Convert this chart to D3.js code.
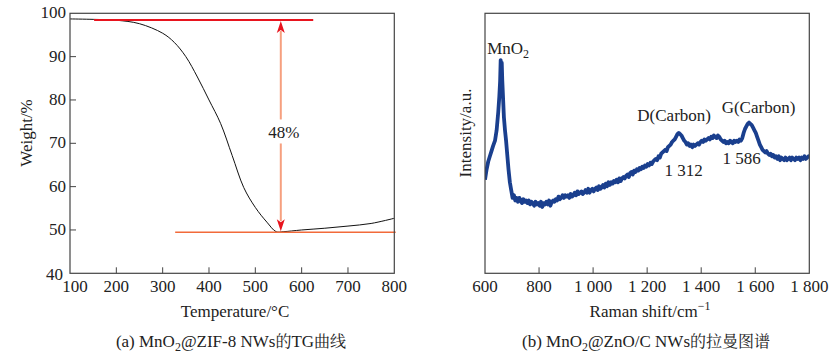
<!DOCTYPE html>
<html><head><meta charset="utf-8">
<script src="https://cdn.jsdelivr.net/npm/d3@7"></script>
</head>
<body style="margin:0;background:#fff">
<svg id="c" width="835" height="356"></svg>
<script>
// ---- Panel (a): TG curve ----
const tgTemp   = [100,150,200,250,300,325,350,375,400,425,450,475,500,525,545,560,600,650,700,750,800];
const tgWeight = [98.7,98.6,98.4,97.6,95.4,93.3,90,85.3,80,74.6,67.2,59.8,55.2,51.8,49.6,49.6,50.0,50.4,50.9,51.5,52.7];
const tgXTicks = [100,200,300,400,500,600,700,800];
const tgYTicks = [40,50,60,70,80,90,100];
const tgTopLine = {x0:152, x1:625, y:98.45};
const tgBottomLine = {x0:327, x1:803, y:49.5};
const tgArrowX = 555;
const tgLossLabel = "48%";

// ---- Panel (b): Raman spectrum ----
const ramanShift = [600,606,612,618,624,630,637,643,649,653,656,658,660,662,664,667,670,674,678,682,687,692,697,702,707,712,717,722,727,732,737,742,747,752,757,762,767,772,777,782,787,792,797,802,807,812,817,822,827,832,837,842,847,852,857,862,867,872,877,882,887,892,897,902,907,912,917,922,927,932,937,942,947,952,957,962,967,972,977,982,987,992,997,1002,1007,1012,1017,1022,1027,1032,1037,1042,1047,1052,1057,1062,1067,1072,1077,1082,1087,1092,1097,1102,1107,1112,1117,1122,1127,1132,1137,1142,1147,1152,1157,1162,1167,1172,1177,1182,1187,1192,1197,1202,1207,1212,1217,1222,1227,1232,1237,1242,1247,1252,1257,1262,1267,1272,1277,1282,1287,1292,1297,1302,1307,1312,1317,1322,1327,1332,1337,1342,1347,1352,1357,1362,1367,1372,1377,1382,1387,1392,1397,1402,1407,1412,1417,1422,1427,1432,1437,1442,1447,1452,1457,1462,1467,1472,1477,1482,1487,1492,1497,1502,1507,1512,1517,1522,1527,1532,1537,1542,1547,1552,1557,1562,1567,1572,1577,1582,1587,1592,1597,1602,1607,1612,1617,1622,1627,1632,1637,1642,1647,1652,1657,1662,1667,1672,1677,1682,1687,1692,1697,1702,1707,1712,1717,1722,1727,1732,1737,1742,1747,1752,1757,1762,1767,1772,1777,1782,1787,1792,1797,1800];
const ramanIntensity = [36,40,43,45,47,49,51,55,62,68,74,82,78,81,74,67,60,55,51,46,40,35,32,29,30,28,29,27.5,29,28,27,28.5,27.5,28,27,28,26.5,27.5,27,26,27.5,26.5,27,26,27.5,25.5,27,26.5,27.5,26.5,28,26,27.5,28,27.5,28.5,28,29.5,28.5,29,30,29,30,29.5,30,29,30.5,29.5,30,31,30,31.5,30.5,31,31.5,30.5,31,32,31,32.5,31,32,32.5,31.5,32.5,33,32,33.5,32.5,33,34,33,34.5,33.5,35,34,35,34.5,35.5,35,36,35,36.5,35.5,36.5,37,36.5,37.5,38,37,38.5,39,38,39.5,39,40,39.5,40.5,40,41,40.5,41.5,41,42,41.5,42.5,42,43,43.5,44,43.5,45,44.5,46,46.5,47,47.5,47,48.5,49,49.5,50.5,51,51.5,52.5,53.5,54,53.5,53,52,51,50.5,49.5,50,49,49.5,48.5,49.5,49,49.5,50,49.5,50.5,51,50.5,51.5,51,51.5,52,51.5,52.5,52,53,52.5,52,53,52.5,51.5,51,50.5,51,50,50.5,50,51,50.5,50,51,50.5,51,50.5,51.5,51,52,54,55.5,56.5,57.5,58,57.5,57,56,55,54,52.5,51,49.5,48.5,47.5,47,46.5,47,46,45.5,46,45,45.5,44.5,45,44,45,43.5,44.5,44,43.5,44.5,43.5,44,44.5,43.5,44.5,44,43.5,44.5,44,44.5,43.5,44.5,44,45,44,44.5,45,44.5,45];
const ramanXTicks = [600,800,1000,1200,1400,1600,1800];
const ramanPeaks = [
  {name:"MnO", sub:"2", x:660, y:84.5, anchor:"start", dx:-14},
  {name:"D(Carbon)", sub:"", x:1300, y:58.5, anchor:"middle", dx:0},
  {name:"G(Carbon)", sub:"", x:1612, y:61.5, anchor:"middle", dx:0}
];
const ramanPeakValues = [
  {label:"1 312", x:1335, y:37.5},
  {label:"1 586", x:1550, y:42}
];

const fmtThousands = v => v >= 1000 ? Math.floor(v/1000) + " " + String(v%1000).padStart(3,"0") : String(v);
const FONT = "'Liberation Serif'";
const CJK = "'Noto Serif CJK SC'";

const svg = d3.select("#c");
svg.append("rect").attr("width",835).attr("height",356).attr("fill","#fff");

const yTop = 13.3, yBot = 273.3;
const FS = 17;
const TXT = "#222";
const T = (sel) => sel.attr("font-size",FS).attr("fill",TXT).style("font-family",FONT);

// ===== Panel A =====
const ax = d3.scaleLinear().domain([100,800]).range([70,394.3]);
const ay = d3.scaleLinear().domain([40,100]).range([yBot,yTop]);
const gA = svg.append("g");

gA.selectAll(".xt").data(tgXTicks.slice(1,-1)).join("line")
  .attr("x1",d=>ax(d)).attr("x2",d=>ax(d)).attr("y1",yBot).attr("y2",yBot-6)
  .attr("stroke","#444").attr("stroke-width",1);
gA.selectAll(".yt").data(tgYTicks.slice(1,-1)).join("line")
  .attr("x1",ax(100)).attr("x2",ax(100)+6).attr("y1",d=>ay(d)).attr("y2",d=>ay(d))
  .attr("stroke","#444").attr("stroke-width",1);
T(gA.selectAll(".xl").data(tgXTicks).join("text")
  .attr("x",d=>ax(d)+(d===100?5:0)).attr("y",yBot+19).attr("text-anchor","middle")).text(d=>d);
T(gA.selectAll(".yl").data(tgYTicks).join("text")
  .attr("x",d=>ax(100)-(d===40?7:4)).attr("y",d=>ay(d)+(d===40?7:5)).attr("text-anchor","end")).text(d=>d);

gA.append("path").datum(tgTemp.map((t,i)=>[t,tgWeight[i]]))
  .attr("d",d3.line().x(d=>ax(d[0])).y(d=>ay(d[1])).curve(d3.curveCatmullRom.alpha(0.5)))
  .attr("fill","none").attr("stroke","#111").attr("stroke-width",1);

gA.append("line").attr("x1",ax(tgTopLine.x0)).attr("x2",ax(tgTopLine.x1))
  .attr("y1",ay(tgTopLine.y)).attr("y2",ay(tgTopLine.y))
  .attr("stroke","#e8141e").attr("stroke-width",2);
gA.append("line").attr("x1",ax(tgBottomLine.x0)).attr("x2",ax(tgBottomLine.x1))
  .attr("y1",ay(tgBottomLine.y)).attr("y2",ay(tgBottomLine.y))
  .attr("stroke","#f26a3a").attr("stroke-width",1.5);

const axX = ax(tgArrowX), yT = ay(tgTopLine.y)+1, yB = ay(tgBottomLine.y)-1;
const yMid = ay(72.5);
gA.append("line").attr("x1",axX).attr("x2",axX).attr("y1",yT+10).attr("y2",yMid-13)
  .attr("stroke","#f6a07f").attr("stroke-width",2);
gA.append("line").attr("x1",axX).attr("x2",axX).attr("y1",yMid+11).attr("y2",yB-10)
  .attr("stroke","#f6a07f").attr("stroke-width",2);
gA.append("path").attr("d",`M${axX},${yT} L${axX-4},${yT+12} L${axX},${yT+9} L${axX+4},${yT+12} Z`)
  .attr("fill","#e8141e");
gA.append("path").attr("d",`M${axX},${yB} L${axX-4},${yB-12} L${axX},${yB-9} L${axX+4},${yB-12} Z`)
  .attr("fill","#e8141e");
T(gA.append("text").attr("x",axX+3).attr("y",yMid+6).attr("text-anchor","middle")).text(tgLossLabel);

gA.append("rect").attr("x",ax(100)).attr("y",yTop).attr("width",ax(800)-ax(100)).attr("height",yBot-yTop)
  .attr("fill","none").attr("stroke","#444").attr("stroke-width",1.2);

T(gA.append("text").attr("x",235).attr("y",317).attr("text-anchor","middle")).text("Temperature/°C");
T(gA.append("text").attr("transform","translate(32,133) rotate(-90)").attr("text-anchor","middle")).text("Weight/%");
const capA = T(gA.append("text").attr("x",231).attr("y",347).attr("text-anchor","middle"));
capA.append("tspan").text("(a) MnO");
capA.append("tspan").attr("font-size",12).attr("dy",4).text("2");
capA.append("tspan").attr("dy",-4).text("@ZIF-8 NWs");
capA.append("tspan").style("font-family",CJK).attr("font-size",16).text("的");
capA.append("tspan").text("TG");
capA.append("tspan").style("font-family",CJK).attr("font-size",16).text("曲线");

// ===== Panel B =====
const bx = d3.scaleLinear().domain([600,1800]).range([485,809.3]);
const by = d3.scaleLinear().domain([0,100]).range([yBot,yTop]);
const gB = svg.append("g");

gB.selectAll(".xt").data(ramanXTicks.slice(1,-1)).join("line")
  .attr("x1",d=>bx(d)).attr("x2",d=>bx(d)).attr("y1",yBot).attr("y2",yBot-6)
  .attr("stroke","#444").attr("stroke-width",1);
T(gB.selectAll(".xl").data(ramanXTicks).join("text")
  .attr("x",d=>bx(d)).attr("y",yBot+19).attr("text-anchor","middle")).text(d=>fmtThousands(d));

gB.append("clipPath").attr("id","clipB").append("rect")
  .attr("x",bx(600)).attr("y",yTop).attr("width",bx(1800)-bx(600)).attr("height",yBot-yTop);
gB.append("path").datum(ramanShift.map((w,i)=>[w,ramanIntensity[i]]))
  .attr("clip-path","url(#clipB)")
  .attr("d",d3.line().x(d=>bx(d[0])).y(d=>by(d[1])))
  .attr("fill","none").attr("stroke","#1a3f8e").attr("stroke-width",3.8)
  .attr("stroke-linejoin","round");

ramanPeaks.forEach(p=>{
  const t = T(gB.append("text").attr("x",bx(p.x)+p.dx).attr("y",by(p.y)).attr("text-anchor",p.anchor));
  t.append("tspan").text(p.name);
  if(p.sub) t.append("tspan").attr("font-size",12).attr("dy",4).text(p.sub);
});
ramanPeakValues.forEach(p=>{
  T(gB.append("text").attr("x",bx(p.x)).attr("y",by(p.y)).attr("text-anchor","middle")).text(p.label);
});

gB.append("rect").attr("x",bx(600)).attr("y",yTop).attr("width",bx(1800)-bx(600)).attr("height",yBot-yTop)
  .attr("fill","none").attr("stroke","#444").attr("stroke-width",1.2);

const tB = T(gB.append("text").attr("x",650).attr("y",317).attr("text-anchor","middle"));
tB.append("tspan").text("Raman shift/cm");
tB.append("tspan").attr("font-size",12).attr("dy",-7).text("−1");
T(gB.append("text").attr("transform","translate(471,133) rotate(-90)").attr("text-anchor","middle")).text("Intensity/a.u.");
const capB = T(gB.append("text").attr("x",646).attr("y",347).attr("text-anchor","middle"));
capB.append("tspan").text("(b) MnO");
capB.append("tspan").attr("font-size",12).attr("dy",4).text("2");
capB.append("tspan").attr("dy",-4).text("@ZnO/C NWs");
capB.append("tspan").style("font-family",CJK).attr("font-size",16).text("的拉曼图谱");
</script>
</body></html>
